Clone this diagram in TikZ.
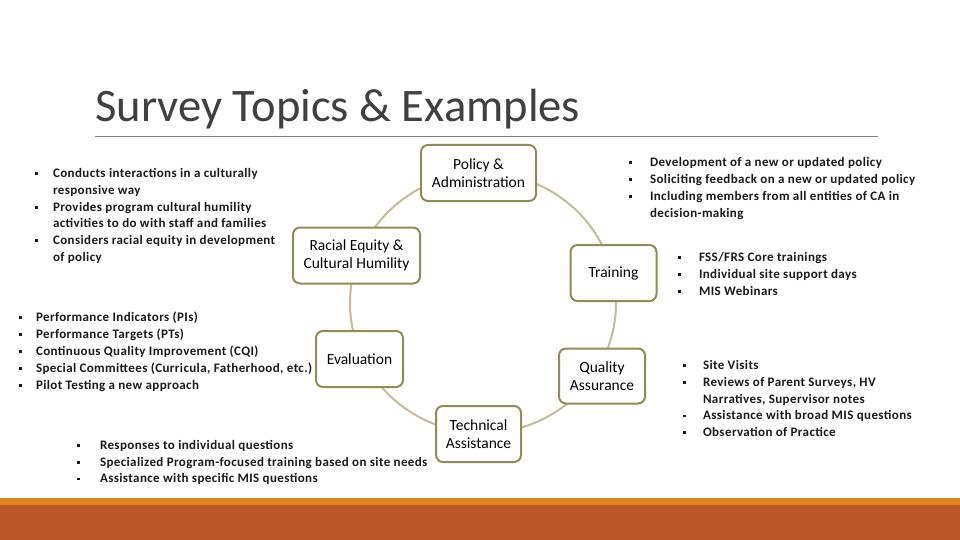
\documentclass[tikz,border=0pt]{standalone}
\usepackage{fontspec}
\setmainfont{Carlito}
\newfontfamily\listfont[LetterSpace=3.0]{Carlito}
\definecolor{boxline}{HTML}{948A54}
\definecolor{ring}{HTML}{C4BD97}
\definecolor{titlegray}{HTML}{404040}
\definecolor{barorange}{HTML}{E0821E}
\definecolor{barred}{HTML}{BD582C}
\definecolor{rulegray}{HTML}{808080}
\definecolor{txt}{HTML}{1A1A1A}
\newcommand\sqbul{\rule[2.4pt]{2.8pt}{2.8pt}}
\begin{document}
\begin{tikzpicture}[x=1pt,y=-1pt,
  topic/.style={draw=boxline, line width=2pt, fill=white, rounded corners=7pt,
    align=center, font=\fontsize{15.5}{18}\selectfont, inner sep=0pt},
  blist/.style={anchor=base west, inner sep=0pt, text=txt}]
\useasboundingbox (0,0) rectangle (960,540);
\fill[white] (0,0) rectangle (960,540);
% title
\node[font=\fontsize{46.6}{52}\selectfont, text=titlegray, anchor=base west, inner sep=0pt] (title) at (95,122) {Survey Topics \& Examples};
\draw[rulegray, line width=1.2pt] (95,136.5) -- (878,136.5);
% bottom bars
\fill[barorange] (0,498) rectangle (960,504.5);
\fill[barred] (0,504.5) rectangle (960,540);
% ring
\draw[ring, line width=2pt] (483,303) ellipse [x radius=133, y radius=130];
% topic boxes
\node[topic, minimum width=115pt, minimum height=56pt] (policy) at (478.5,173) {Policy \&\\Administration};
\node[topic, minimum width=127pt, minimum height=56pt] (racial) at (356.5,255.5) {Racial Equity \&\\Cultural Humility};
\node[topic, minimum width=86pt, minimum height=56pt] (training) at (613.5,273) {Training};
\node[topic, minimum width=87pt, minimum height=56pt] (evaluation) at (359.5,359) {Evaluation};
\node[topic, minimum width=86pt, minimum height=55pt] (quality) at (602,376) {Quality\\Assurance};
\node[topic, minimum width=85pt, minimum height=56pt] (technical) at (478.5,434) {Technical\\Assistance};
% bullet lists
\node[blist, font=\listfont\bfseries\fontsize{13}{16.8}\selectfont] (listracial) at (35,177.5) {\begin{tabular}[t]{@{}l@{\hspace{15pt}}l@{}}
\sqbul & Conducts interactions in a culturally\\
 & responsive way\\
\sqbul & Provides program cultural humility\\
 & activities to do with staff and families\\
\sqbul & Considers racial equity in development\\
 & of policy\end{tabular}};
\node[blist, font=\listfont\bfseries\fontsize{13}{17}\selectfont] (listeval) at (19,321.5) {\begin{tabular}[t]{@{}l@{\hspace{14pt}}l@{}}
\sqbul & Performance Indicators (PIs)\\
\sqbul & Performance Targets (PTs)\\
\sqbul & Continuous Quality Improvement (CQI)\\
\sqbul & Special Committees (Curricula, Fatherhood, etc.)\\
\sqbul & Pilot Testing a new approach\end{tabular}};
\node[blist, font=\listfont\bfseries\fontsize{13}{16.6}\selectfont] (listta) at (77,449.5) {\begin{tabular}[t]{@{}l@{\hspace{20pt}}l@{}}
\sqbul & Responses to individual questions\\
\sqbul & Specialized Program-focused training based on site needs\\
\sqbul & Assistance with specific MIS questions\end{tabular}};
\node[blist, font=\listfont\bfseries\fontsize{13}{17}\selectfont] (listpolicy) at (629,166.5) {\begin{tabular}[t]{@{}l@{\hspace{18pt}}l@{}}
\sqbul & Development of a new or updated policy\\
\sqbul & Soliciting feedback  on a new or updated policy\\
\sqbul & Including members from all entities of CA in\\
 & decision-making\end{tabular}};
\node[blist, font=\listfont\bfseries\fontsize{13}{17}\selectfont] (listtraining) at (678,261.5) {\begin{tabular}[t]{@{}l@{\hspace{18pt}}l@{}}
\sqbul & FSS/FRS Core trainings\\
\sqbul & Individual site support days\\
\sqbul & MIS Webinars\end{tabular}};
\node[blist, font=\listfont\bfseries\fontsize{13}{16.75}\selectfont] (listqa) at (683,369.5) {\begin{tabular}[t]{@{}l@{\hspace{17pt}}l@{}}
\sqbul & Site Visits\\
\sqbul & Reviews of Parent Surveys, HV\\
 & Narratives, Supervisor notes\\
\sqbul & Assistance with broad MIS questions\\
\sqbul & Observation of Practice\end{tabular}};
\end{tikzpicture}
\end{document}
